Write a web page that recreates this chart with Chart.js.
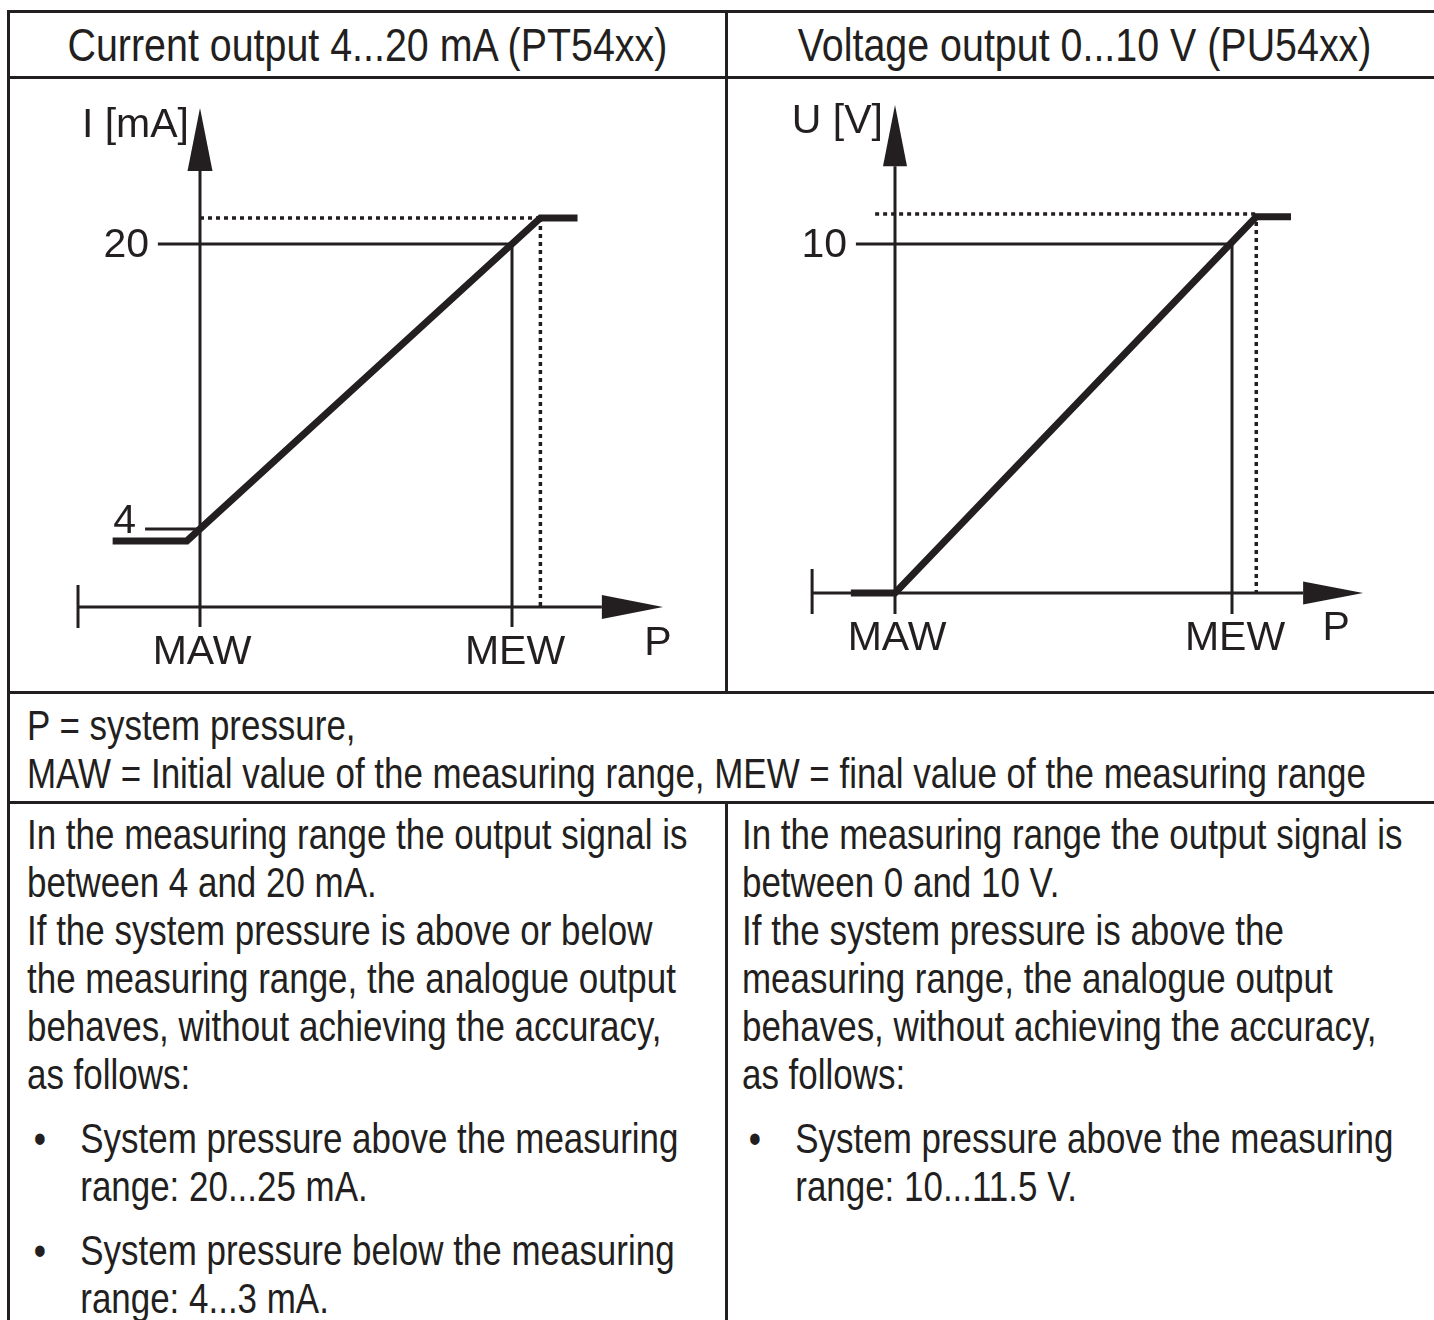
<!DOCTYPE html>
<html>
<head>
<meta charset="utf-8">
<script src="https://cdn.jsdelivr.net/npm/chart.js@4.4.1/dist/chart.umd.min.js"></script>
<style>
html,body{margin:0;padding:0;background:#fff;}
body{width:1434px;height:1320px;overflow:hidden;}
#page{position:relative;width:1434px;height:1320px;overflow:hidden;color:#231f20;
  font-family:"Liberation Sans",Arial,sans-serif;}
.rule{position:absolute;background:#231f20;}
.hdr{position:absolute;top:13px;height:63px;font-size:47px;line-height:63px;text-align:center;white-space:nowrap;
  transform:scaleX(0.838);transform-origin:0 0;}
.txt{position:absolute;font-size:42px;line-height:48px;white-space:nowrap;transform:scaleX(0.832);transform-origin:0 0;}
.bul{position:relative;padding-left:64px;margin-top:16px;}
.bul .dot{position:absolute;left:8px;top:0;}
canvas{position:absolute;}
</style>
</head>
<body>
<div id="page">
  <!-- table rules -->
  <div class="rule" style="left:7px;top:10px;width:1440px;height:3px;"></div>
  <div class="rule" style="left:7px;top:76px;width:1440px;height:3px;"></div>
  <div class="rule" style="left:7px;top:691px;width:1440px;height:3px;"></div>
  <div class="rule" style="left:7px;top:801px;width:1440px;height:3px;"></div>
  <div class="rule" style="left:7px;top:10px;width:3px;height:1310px;"></div>
  <div class="rule" style="left:725px;top:10px;width:3px;height:684px;"></div>
  <div class="rule" style="left:725px;top:801px;width:3px;height:519px;"></div>

  <div class="hdr" style="left:10px;width:853px;">Current output 4...20 mA (PT54xx)</div>
  <div class="hdr" style="left:728px;width:851px;">Voltage output 0...10 V (PU54xx)</div>

  <canvas id="cCur" width="715" height="612" style="left:10px;top:79px;"></canvas>
  <canvas id="cVolt" width="706" height="612" style="left:728px;top:79px;"></canvas>

  <div class="txt" style="left:27px;top:702px;">P = system pressure,<br>MAW = Initial value of the measuring range, MEW = final value of the measuring range</div>

  <div class="txt" style="left:27px;top:811px;">
    In the measuring range the output signal is<br>
    between 4 and 20 mA.<br>
    If the system pressure is above or below<br>
    the measuring range, the analogue output<br>
    behaves, without achieving the accuracy,<br>
    as follows:
    <div class="bul"><span class="dot">•</span>System pressure above the measuring<br>range: 20...25 mA.</div>
    <div class="bul"><span class="dot">•</span>System pressure below the measuring<br>range: 4...3 mA.</div>
  </div>

  <div class="txt" style="left:742px;top:811px;">
    In the measuring range the output signal is<br>
    between 0 and 10 V.<br>
    If the system pressure is above the<br>
    measuring range, the analogue output<br>
    behaves, without achieving the accuracy,<br>
    as follows:
    <div class="bul"><span class="dot">•</span>System pressure above the measuring<br>range: 10...11.5 V.</div>
  </div>
</div>

<script>
// ---------------- DATA ----------------
// x = system pressure P in % of the measuring range (MAW = 0, MEW = 100)
const pTickValues = [0, 100];
const pTickLabels = ['MAW', 'MEW'];

// Current output (mA)
const curTitle = 'I [mA]';
const curSignalX = [-28, -4.2, 109.1, 121];
const curSignalY = [3.33, 3.33, 21.46, 21.46];
const curTickValues = [4, 20];
const curTickLabels = ['4', '20'];
const curTickStartX = [-17.6, -13.5];
const curLimitY = 21.46;       // saturation level (dotted)
const curLimitX = 109.1;       // pressure where saturation starts (dotted)
const curAxisLevel = -0.38;    // level of the P axis
const curAxisStartX = -39.1;
const curAxisEndX = 128.8;
const curArrowTipX = 148.4;
const curYAxisBottom = -1.5;
const curYAxisTop = 24.1;
const curYArrowTip = 27.64;
const curEndTick = [0.86, -1.56];

// Voltage output (V)
const voltTitle = 'U [V]';
const voltSignalX = [-13.1, 0, 107.2, 117.5];
const voltSignalY = [0, 0, 10.78, 10.78];
const voltTickValues = [10];
const voltTickLabels = ['10'];
const voltTickStartX = [-11.6];
const voltLimitY = 10.86;
const voltLimitX = 107.2;
const voltLimitStartX = -5.9;
const voltAxisLevel = 0;
const voltAxisStartX = -24.6;
const voltAxisEndX = 121.1;
const voltArrowTipX = 138.9;
const voltYAxisBottom = -0.6;
const voltYAxisTop = 12.23;
const voltYArrowTip = 13.98;
const voltEndTick = [0.69, -0.6];

const axisTitleP = 'P';

// ---------------- HELPERS ----------------
const INK = '#231f20';
const LABEL_FONT = '41px "Liberation Sans", Arial, sans-serif';

function fit(px0, px1, v0, v1, size) {
  const per = (px1 - px0) / (v1 - v0);
  const min = v0 - px0 / per;
  return [min, min + size / per];
}
function pts(xs, ys) { return xs.map((x, i) => ({x, y: ys[i]})); }
function seg(points, width, dash) {
  return {data: points, showLine: true, borderColor: INK, backgroundColor: INK,
          borderWidth: width, borderDash: dash || [], pointRadius: 0, pointHoverRadius: 0,
          fill: false, tension: 0, borderCapStyle: 'butt', borderJoinStyle: 'miter', clip: false};
}

const overlay = {
  id: 'overlay',
  afterDatasetsDraw(chart, args, opts) {
    const ctx = chart.ctx, xs = chart.scales.x, ys = chart.scales.y;
    ctx.save();
    ctx.fillStyle = INK;
    opts.arrows.forEach(a => {
      const bx = xs.getPixelForValue(a.base[0]), by = ys.getPixelForValue(a.base[1]);
      const tx = xs.getPixelForValue(a.tip[0]), ty = ys.getPixelForValue(a.tip[1]);
      const dx = tx - bx, dy = ty - by, len = Math.hypot(dx, dy);
      const nx = -dy / len * a.half, ny = dx / len * a.half;
      ctx.beginPath();
      ctx.moveTo(tx, ty);
      ctx.lineTo(bx + nx, by + ny);
      ctx.lineTo(bx - nx, by - ny);
      ctx.closePath();
      ctx.fill();
    });
    ctx.font = LABEL_FONT;
    ctx.textBaseline = 'alphabetic';
    opts.labels.forEach(l => {
      ctx.textAlign = l.align;
      ctx.fillText(l.text, xs.getPixelForValue(l.at[0]) + l.dx, ys.getPixelForValue(l.at[1]) + l.dy);
    });
    ctx.restore();
  }
};

function makeChart(id, xr, yr, datasets, arrows, labels) {
  return new Chart(document.getElementById(id), {
    type: 'scatter',
    data: {datasets},
    options: {
      responsive: false, animation: false, devicePixelRatio: 1,
      layout: {padding: 0},
      events: [],
      plugins: {legend: {display: false}, tooltip: {enabled: false}, overlay: {arrows, labels}},
      scales: {
        x: {type: 'linear', display: false, min: xr[0], max: xr[1]},
        y: {type: 'linear', display: false, min: yr[0], max: yr[1]}
      }
    },
    plugins: [overlay]
  });
}

// ---------------- CURRENT CHART ----------------
{
  const xr = fit(190, 502, pTickValues[0], pTickValues[1], 715);
  const yr = fit(612 - 450, 612 - 165, curTickValues[0], curTickValues[1], 612);
  const ds = [
    seg([{x: curAxisStartX, y: curAxisLevel}, {x: curAxisEndX, y: curAxisLevel}], 3),
    seg([{x: curAxisStartX, y: curEndTick[0]}, {x: curAxisStartX, y: curEndTick[1]}], 3),
    seg([{x: 0, y: curYAxisBottom}, {x: 0, y: curYAxisTop}], 3),
    seg([{x: pTickValues[1], y: curTickValues[1]}, {x: pTickValues[1], y: curYAxisBottom}], 3),
    seg([{x: 0, y: curLimitY}, {x: curLimitX, y: curLimitY}], 3.5, [4, 4]),
    seg([{x: curLimitX, y: curLimitY}, {x: curLimitX, y: curAxisLevel}], 3.5, [4, 4]),
  ];
  curTickValues.forEach((v, i) => {
    const end = i === curTickValues.length - 1 ? pTickValues[1] : 0;
    ds.push(seg([{x: curTickStartX[i], y: v}, {x: end, y: v}], 3));
  });
  ds.push(seg(pts(curSignalX, curSignalY), 7));
  const arrows = [
    {base: [0, curYAxisTop], tip: [0, curYArrowTip], half: 12.5},
    {base: [curAxisEndX, curAxisLevel], tip: [curArrowTipX, curAxisLevel], half: 12}
  ];
  const labels = [
    {text: curTitle, at: [0, curYArrowTip], dx: -11, dy: 29, align: 'right'},
    {text: curTickLabels[0], at: [0, curTickValues[0]], dx: -64, dy: 4, align: 'right'},
    {text: curTickLabels[1], at: [0, curTickValues[1]], dx: -51, dy: 13, align: 'right'},
    {text: pTickLabels[0], at: [pTickValues[0], curAxisLevel], dx: 2, dy: 57, align: 'center'},
    {text: pTickLabels[1], at: [pTickValues[1], curAxisLevel], dx: 3, dy: 57, align: 'center'},
    {text: axisTitleP, at: [curArrowTipX, curAxisLevel], dx: -5, dy: 48, align: 'center'}
  ];
  makeChart('cCur', xr, yr, ds, arrows, labels);
}

// ---------------- VOLTAGE CHART ----------------
{
  const xr = fit(167, 504, pTickValues[0], pTickValues[1], 706);
  const yr = fit(612 - 514, 612 - 165, 0, voltTickValues[0], 612);
  const ds = [
    seg([{x: voltAxisStartX, y: voltAxisLevel}, {x: voltAxisEndX, y: voltAxisLevel}], 3),
    seg([{x: voltAxisStartX, y: voltEndTick[0]}, {x: voltAxisStartX, y: voltEndTick[1]}], 3),
    seg([{x: 0, y: voltYAxisBottom}, {x: 0, y: voltYAxisTop}], 3),
    seg([{x: pTickValues[1], y: voltTickValues[0]}, {x: pTickValues[1], y: voltYAxisBottom}], 3),
    seg([{x: voltLimitStartX, y: voltLimitY}, {x: voltLimitX, y: voltLimitY}], 3.5, [4, 4]),
    seg([{x: voltLimitX, y: voltLimitY}, {x: voltLimitX, y: voltAxisLevel}], 3.5, [4, 4]),
    seg([{x: voltTickStartX[0], y: voltTickValues[0]}, {x: pTickValues[1], y: voltTickValues[0]}], 3),
    seg(pts(voltSignalX, voltSignalY), 7)
  ];
  const arrows = [
    {base: [0, voltYAxisTop], tip: [0, voltYArrowTip], half: 12},
    {base: [voltAxisEndX, voltAxisLevel], tip: [voltArrowTipX, voltAxisLevel], half: 11.5}
  ];
  const labels = [
    {text: voltTitle, at: [0, voltYArrowTip], dx: -12, dy: 28, align: 'right'},
    {text: voltTickLabels[0], at: [0, voltTickValues[0]], dx: -48, dy: 13, align: 'right'},
    {text: pTickLabels[0], at: [pTickValues[0], voltAxisLevel], dx: 2, dy: 57, align: 'center'},
    {text: pTickLabels[1], at: [pTickValues[1], voltAxisLevel], dx: 3, dy: 57, align: 'center'},
    {text: axisTitleP, at: [voltArrowTipX, voltAxisLevel], dx: -27, dy: 47, align: 'center'}
  ];
  makeChart('cVolt', xr, yr, ds, arrows, labels);
}
</script>
</body>
</html>
